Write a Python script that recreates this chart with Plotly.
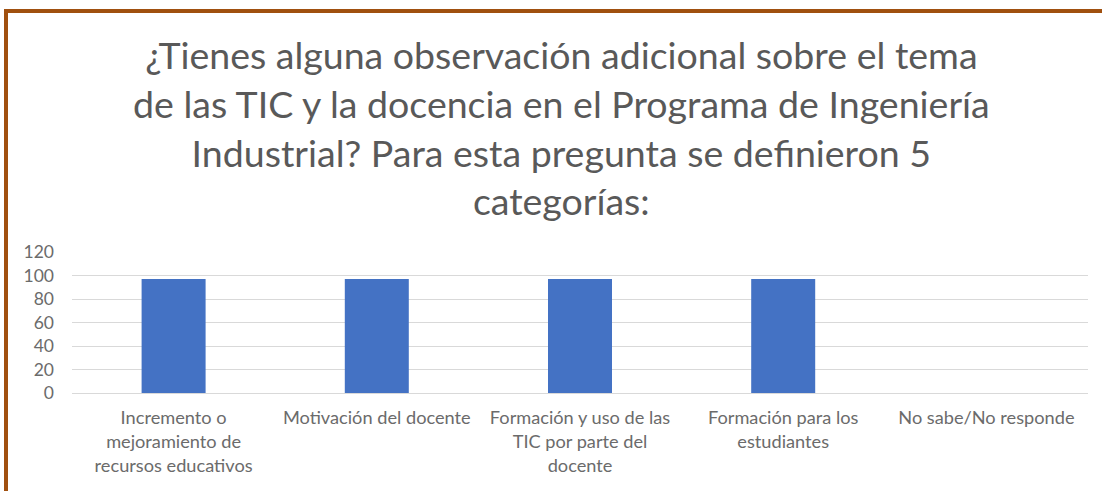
import plotly.graph_objects as go

categories = [
    "Incremento o<br>mejoramiento de<br>recursos educativos",
    "Motivación del docente",
    "Formación y uso de las<br>TIC por parte del<br>docente",
    "Formación para los<br>estudiantes",
    "No sabe/No responde",
]
values = [97, 97, 97, 97, 0]
y_ticks = [0, 20, 40, 60, 80, 100, 120]
title_text = ("¿Tienes alguna observación adicional sobre el tema<br>"
              "de las TIC y la docencia en el Programa de Ingeniería<br>"
              "Industrial? Para esta pregunta se definieron 5<br>categorías:")

FONT = "Lato"
GRAY = "#595959"
TICK_GRAY = "#6b6b6b"

fig = go.Figure(go.Bar(
    x=categories, y=values, marker_color="#4472C4", width=0.315,
    marker_line_width=0,
))

L, R, T, B = 72, 14, 252, 98
W, H = 1102, 491
pw, ph = W - L - R, H - T - B

def px_x(p):
    return (p - L) / pw

def px_y(p):
    return (H - B - p) / ph

fig.update_layout(
    width=W, height=H,
    margin=dict(l=L, r=R, t=T, b=B, autoexpand=False),
    paper_bgcolor="white", plot_bgcolor="white",
    showlegend=False,
    font=dict(family=FONT, color=GRAY),
    xaxis=dict(tickfont=dict(size=18.2, color=TICK_GRAY, family=FONT), showgrid=False,
               showline=False, ticks="", automargin=False, ticklabelstandoff=12),
    yaxis=dict(range=[0, 120], tickvals=y_ticks, showgrid=True, gridcolor="#d9d9d9",
               gridwidth=1, zeroline=True, zerolinecolor="#d9d9d9", zerolinewidth=1,
               tickfont=dict(size=17.5, color=TICK_GRAY, family=FONT), ticks="",
               showline=False, automargin=False, ticklabelstandoff=17),
    annotations=[dict(
        text=title_text, xref="paper", yref="paper",
        x=px_x(561), y=px_y(127.5), xanchor="center", yanchor="middle",
        showarrow=False, font=dict(size=37.5, color=GRAY, family=FONT),
    )],
    shapes=[dict(
        type="rect", xref="paper", yref="paper",
        x0=px_x(6), x1=px_x(1130), y0=px_y(11), y1=px_y(520),
        line=dict(color="#A0500F", width=4), fillcolor="rgba(0,0,0,0)", layer="above",
    )],
)

fig.write_html("out.html", config={"displayModeBar": False},
               post_script="document.body.style.margin='0';document.body.style.overflow='hidden';")
